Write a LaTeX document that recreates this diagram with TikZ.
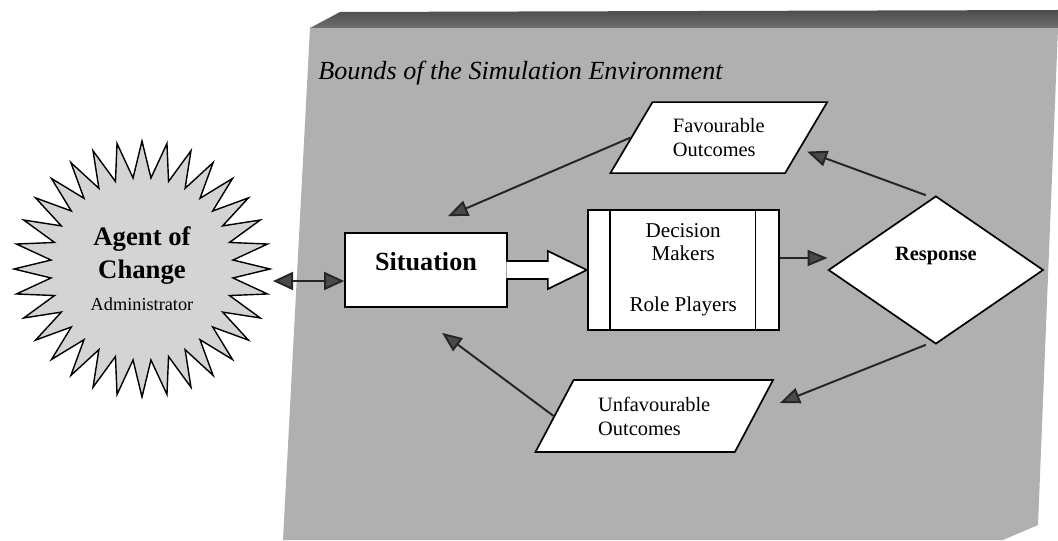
\documentclass[tikz,border=0pt]{standalone}
\usepackage{fontspec}
\setmainfont{Liberation Serif}
\usetikzlibrary{positioning,arrows.meta,calc,shapes.geometric}
\definecolor{panelgrey}{HTML}{B0B0B0}
\definecolor{topgrey}{HTML}{6E6E6E}
\definecolor{burstgrey}{HTML}{D4D4D4}
\definecolor{headgrey}{HTML}{4A4A4A}

\begin{document}
\begin{tikzpicture}[node distance=1.2cm,
  box/.style={rectangle,draw=black,fill=white,line width=1.2pt,align=center},
  outcome/.style={trapezium,trapezium stretches=true,draw=black,fill=white,line width=1.2pt,align=left,font=\fontsize{14.5}{17}\selectfont},
  link/.style={-{Triangle[length=0.5cm,width=0.4cm,fill=headgrey]},line width=1.4pt,draw=black!85},
  dbllink/.style={{Triangle[length=0.5cm,width=0.45cm,fill=headgrey]}-{Triangle[length=0.5cm,width=0.45cm,fill=headgrey]},line width=1.4pt,draw=black!85}]
\useasboundingbox (0,0) rectangle (26.45,13.5);
% the simulation environment
\fill[panelgrey] (7.75,12.8) -- (26.45,12.8) -- (25.95,0.375) -- (25.075,0) -- (7.075,0) -- cycle;
\shade[top color=topgrey!70!black,bottom color=topgrey] (7.75,12.8) -- (8.5,13.2) -- (26.45,13.25) -- (26.45,12.8) -- cycle;
\node[anchor=west,inner sep=0pt,font=\fontsize{18.6}{22}\selectfont\itshape] (bounds) at (7.95,11.675) {Bounds of the Simulation Environment};
% agent
\node[star,star points=32,star point ratio=1.4,minimum size=6.4cm,draw=black,fill=burstgrey,line width=1pt,align=center,font=\fontsize{19}{23}\selectfont\bfseries] (agent) at (3.55,6.775) {Agent of\\Change\\{\fontsize{13}{16}\selectfont\mdseries Administrator}};
% main flow
\node[box,minimum width=4.05cm,minimum height=1.85cm,font=\fontsize{18.6}{22}\selectfont\bfseries,text height=0.45cm,text depth=0.45cm] (sit) at (10.65,6.75) {Situation};
\node[box,minimum width=4.775cm,minimum height=3cm,right=1.975cm of sit,font=\fontsize{15}{16.5}\selectfont] (dm) {Decision\\Makers\\[20pt]Role Players};
\draw[line width=1.2pt] ($(dm.north west)+(0.575,0)$) -- ($(dm.south west)+(0.575,0)$);
\draw[line width=1.2pt] ($(dm.north east)+(-0.6,0)$) -- ($(dm.south east)+(-0.6,0)$);
\node[diamond,draw=black,fill=white,line width=1.2pt,minimum width=5.375cm,minimum height=3.6cm,right=1.2cm of dm,font=\fontsize{14.5}{17}\selectfont\bfseries,text height=0.35cm,text depth=0.84cm] (resp) {Response};
\node[outcome,trapezium left angle=56,trapezium right angle=124,minimum width=5.425cm,minimum height=1.775cm] (fav) at (17.97,10.06) {Favourable\\Outcomes};
\node[outcome,trapezium left angle=59,trapezium right angle=121,minimum width=5.95cm,minimum height=1.8cm] (unf) at (16.356,3.1) {Unfavourable\\Outcomes};
% block arrow
\draw[line width=1.2pt,fill=white] ($(sit.east)+(-0.04,0.225)$) -- ($(sit.east)+(1,0.225)$) -- ($(sit.east)+(1,0.475)$) -- (sit.east -| dm.west) -- ($(sit.east)+(1,-0.475)$) -- ($(sit.east)+(1,-0.225)$) -- ($(sit.east)+(-0.04,-0.225)$);
% connectors
\draw[dbllink] ([yshift=-0.3cm]agent.east) -- ([yshift=-0.3cm]agent.east -| sit.west);
\draw[link] ([yshift=0.3cm]dm.east) -- ([yshift=0.3cm]dm.east -| resp.west);
\draw[link] ([xshift=-0.25cm]resp.north) -- ($(fav.east)+(0,-0.35)$);
\draw[link] (fav.west) -- ($(sit.north)+(0.55,0.4)$);
\draw[link] (unf.west) -- ($(sit.south)+(0.4,-0.625)$);
\draw[link] ([xshift=-0.25cm]resp.south) -- ($(unf.east)+(0.625,0.325)$);
\end{tikzpicture}
\end{document}
